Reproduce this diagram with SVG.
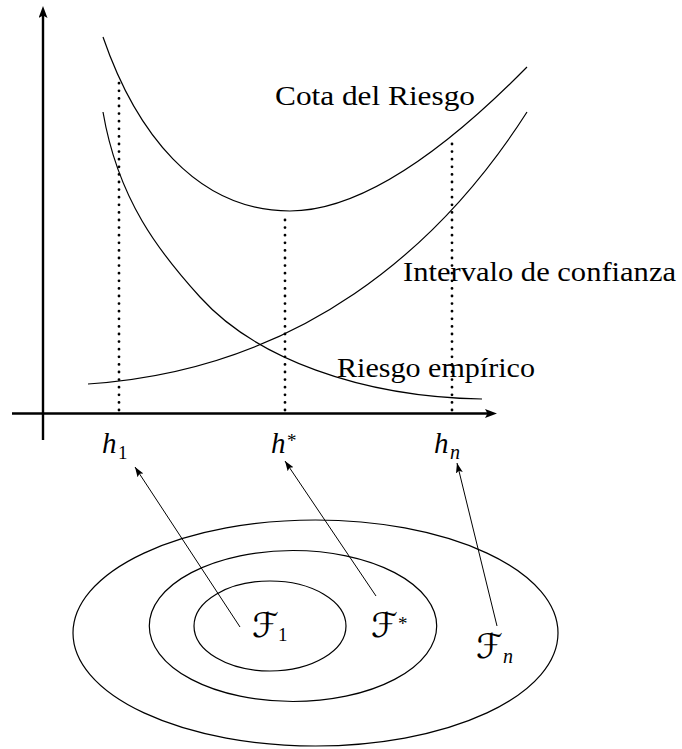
<svg xmlns="http://www.w3.org/2000/svg" width="682" height="749" viewBox="0 0 682 749">
<style>
.curve{fill:none;stroke:#000;stroke-width:1.2}
.axis{fill:none;stroke:#000;stroke-width:2.4}
.dot{fill:none;stroke:#000;stroke-width:2.8;stroke-linecap:round;stroke-dasharray:0 7.6}
.set{fill:none;stroke:#000;stroke-width:1.2}
.conn{fill:none;stroke:#000;stroke-width:1}
text{fill:#000;font-family:"Liberation Serif","Times New Roman",serif}
.lbl{font-size:28px}
.math{font-style:italic;font-size:29px}
.sub{font-size:19px}
.subi{font-style:italic;font-size:20px}
.cal{font-size:34px;font-family:"DejaVu Sans",sans-serif}
</style>
<defs>
<marker id="axhead" markerUnits="userSpaceOnUse" markerWidth="14" markerHeight="10" refX="4" refY="4.5" orient="auto">
<path d="M0,0 L12,4.5 L0,9 L2.5,4.5 Z" fill="#000"/>
</marker>
<marker id="head" markerUnits="userSpaceOnUse" markerWidth="12" markerHeight="9" refX="10" refY="3.8" orient="auto">
<path d="M0,0.3 L10,3.8 L0,7.3 L2,3.8 Z" fill="#000"/>
</marker>
</defs>

<g id="axes">
<line class="axis" x1="43" y1="440" x2="43" y2="14" marker-end="url(#axhead)"/>
<line class="axis" x1="12" y1="413.5" x2="489" y2="413.5" marker-end="url(#axhead)"/>
</g>

<g id="guides">
<line class="dot" x1="119" y1="410" x2="119" y2="80"/>
<line class="dot" x1="285" y1="410" x2="285" y2="215"/>
<line class="dot" x1="452" y1="410" x2="452" y2="140"/>
</g>

<g id="curves">
<path id="cota" class="curve" d="M103,37 C135,130 195,211 290,211 C370,211 460,135 527,67"/>
<path id="empirico" class="curve" d="M103,112 C118,200 160,253 200,297 C255,358 360,397 482,399"/>
<path id="confianza" class="curve" d="M88,384 C300,370 440,248 527,112"/>
</g>

<g id="curve-labels">
<text class="lbl" x="275" y="105" textLength="200" lengthAdjust="spacingAndGlyphs">Cota del Riesgo</text>
<text class="lbl" x="403" y="281" textLength="273" lengthAdjust="spacingAndGlyphs">Intervalo de confianza</text>
<text class="lbl" x="337" y="377" textLength="198" lengthAdjust="spacingAndGlyphs">Riesgo empírico</text>
</g>

<g id="h1"><text class="math" x="102" y="453">h</text><text class="sub" x="118" y="459">1</text></g>
<g id="hstar"><text class="math" x="271" y="453">h</text><text class="sub" x="287" y="447">*</text></g>
<g id="hn"><text class="math" x="434" y="453">h</text><text class="subi" x="450" y="459">n</text></g>

<g id="set-n"><ellipse class="set" cx="315.5" cy="633" rx="242.5" ry="113"/><text class="cal" x="476" y="658">ℱ</text><text class="subi" x="503" y="663">n</text></g>
<g id="set-star"><ellipse class="set" cx="293" cy="626" rx="143.7" ry="75.5"/><text class="cal" x="371" y="637">ℱ</text><text class="sub" x="398" y="630">*</text></g>
<g id="set-1"><ellipse class="set" cx="270" cy="626" rx="76" ry="45"/><text class="cal" x="252" y="637">ℱ</text><text class="sub" x="278" y="641">1</text></g>

<g id="connectors">
<line class="conn" x1="240" y1="627" x2="135" y2="467" marker-end="url(#head)"/>
<line class="conn" x1="376" y1="596" x2="285" y2="461" marker-end="url(#head)"/>
<line class="conn" x1="497" y1="626" x2="457" y2="463" marker-end="url(#head)"/>
</g>
</svg>
